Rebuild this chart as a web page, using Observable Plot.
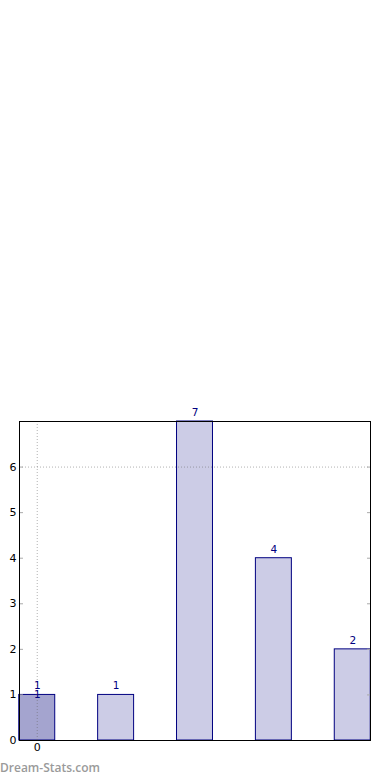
<!DOCTYPE html>
<html>
<head>
<meta charset="utf-8">
<script src="https://cdn.jsdelivr.net/npm/d3@7"></script>
<script src="https://cdn.jsdelivr.net/npm/@observablehq/plot@0.6"></script>
<style>
  html, body { margin: 0; padding: 0; background: #fff; }
  #wrap { position: relative; width: 390px; height: 780px; overflow: hidden; }
  #wm { position: absolute; left: 0px; top: 760px; font: 600 12px "Open Sans", sans-serif; color: #9a9a9a; line-height: 16px; }
</style>
</head>
<body>
<div id="wrap">
  <div id="chart"></div>
  <div id="wm">Dream-Stats.com</div>
</div>
<script>
// Data
const positions = [0, 1, 2, 3, 4];
const counts = [1, 1, 7, 4, 2];
const highlighted = [true, false, false, false, false];
const extraLabelPositions = [0];
const extraLabelValues = [1];
const yTicks = [0, 1, 2, 3, 4, 5, 6];
const xTicks = [0];
const gridYValues = [6];
const gridXValues = [0];

const halfWidth = 0.228;
const rows = positions.map((p, i) => ({x: p, count: counts[i], hl: highlighted[i]}));
const extra = extraLabelPositions.map((p, i) => ({x: p, count: extraLabelValues[i]}));

const navy = "#000080";
const font = "DejaVu Sans, sans-serif";

const chart = Plot.plot({
  width: 390,
  height: 780,
  marginTop: 421,
  marginBottom: 40,
  marginLeft: 19,
  marginRight: 20,
  style: {fontFamily: font, fontSize: "11px", background: "white", color: "black"},
  x: {type: "linear", domain: [-0.225, 4.225], axis: null, label: null},
  y: {type: "linear", domain: [0, 7], axis: null, label: null},
  marks: [
    Plot.rectY(rows, {
      x1: d => d.x - halfWidth,
      x2: d => d.x + halfWidth,
      y1: 0,
      y2: "count",
      fill: d => d.hl ? "#a4a4cf" : "#ccccE6",
      stroke: navy,
      strokeWidth: 1
    }),
    Plot.ruleY(gridYValues, {stroke: "#666", strokeOpacity: 0.5, strokeDasharray: "1,2"}),
    Plot.ruleX(gridXValues, {stroke: "#666", strokeOpacity: 0.5, strokeDasharray: "1,2"}),
    Plot.axisY({anchor: "left", ticks: yTicks, tickSize: 0, tickPadding: 3, fill: "black", fontSize: 11, label: null, tickFormat: d => String(d)}),
    Plot.axisY({anchor: "left", ticks: yTicks, tickSize: -4, tickFormat: () => "", stroke: "#aaa", label: null}),
    Plot.axisY({anchor: "right", ticks: yTicks, tickSize: -4, tickFormat: () => "", stroke: "#aaa", label: null}),
    Plot.axisX({anchor: "bottom", ticks: xTicks, tickSize: 0, tickPadding: 3, fill: "black", fontSize: 11, label: null, tickFormat: d => String(d)}),
    Plot.frame({stroke: "black", strokeWidth: 1}),
    Plot.text(rows, {x: "x", y: "count", text: d => String(d.count), dy: -9, fill: navy, fontSize: 10.5}),
    Plot.text(extra, {x: "x", y: "count", text: d => String(d.count), fill: navy, fontSize: 10.5})
  ]
});
document.getElementById("chart").appendChild(chart);
</script>
</body>
</html>
